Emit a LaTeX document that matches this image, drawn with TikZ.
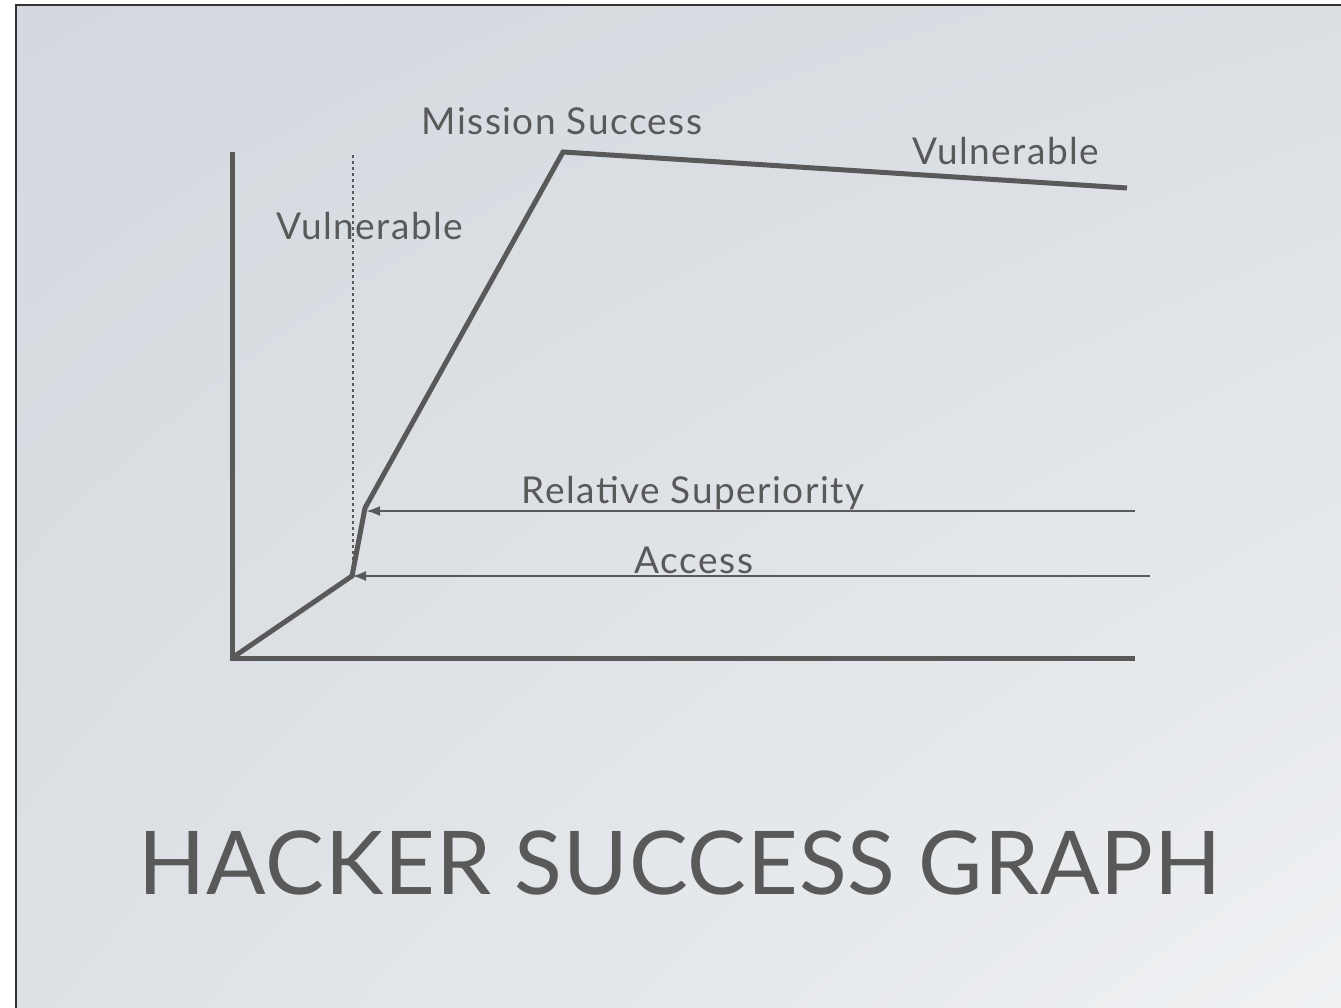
\documentclass[tikz,border=0pt]{standalone}
\usepackage{fontspec}
\setmainfont{Lato}
\newfontfamily\lblfont{Lato}[LetterSpace=4]
\newfontfamily\ttlfont{Lato}[LetterSpace=1]
\usetikzlibrary{arrows.meta,shadings}
\definecolor{ink}{HTML}{595959}
\definecolor{bgA}{HTML}{D3D9DF}
\definecolor{bgB}{HTML}{DBDFE4}
\definecolor{bgC}{HTML}{DDE1E5}
\definecolor{bgD}{HTML}{EFF1F3}
\tikzset{
  axis/.style={draw=ink, line width=5pt},
  curve/.style={draw=ink, line width=5pt, line join=miter},
  pointer/.style={draw=ink, line width=2.4pt, -{Latex[length=14pt,width=10pt]}},
  lbl/.style={text=ink, font=\lblfont\fontsize{37}{44}\selectfont, inner sep=0pt, anchor=base},
  ttl/.style={text=ink, font=\ttlfont\fontsize{88}{100}\selectfont, inner sep=0pt, anchor=base}
}
\begin{document}
\begin{tikzpicture}[x=1pt,y=-1pt]
\useasboundingbox (0,0) rectangle (1341,1008);
\fill[white] (0,0) rectangle (1341,1008);
\shade[upper left=bgA, upper right=bgB, lower left=bgC, lower right=bgD] (16,5) rectangle (1341,1008);
\draw[black!80, line width=2pt] (16,1008) -- (16,5) -- (1341,5);
% points
\coordinate (O) at (232,658);
\coordinate (Ytop) at (232,152);
\coordinate (Xend) at (1135,658);
\coordinate (A) at (352,576);
\coordinate (R) at (365,508);
\coordinate (Rtip) at (366,511);
\coordinate (M) at (563,152);
\coordinate (E) at (1127,188);
\coordinate (Rstart) at (1135,511);
\coordinate (Astart) at (1150,576);
\coordinate (Dtop) at (353,155);
\coordinate (Dbot) at (353,574);
% axes
\draw[axis] (Ytop) -- (232,660.5);
\draw[axis] (229.5,658) -- (Xend);
% dotted
\draw[ink, line width=2.2pt, dash pattern=on 3pt off 3pt] (Dtop) -- (Dbot);
% curve
\draw[curve] (O) -- (A) -- (R) -- (M) -- (E);
% arrows
\draw[pointer] (Rstart) -- (Rtip);
\draw[pointer] (Astart) -- (A);
% labels
\node[lbl] (ms) at (562,135) {Mission Success};
\node[lbl] (v1) at (1006,165) {Vulnerable};
\node[lbl] (v2) at (370,240) {Vulnerable};
\node[lbl] (rs) at (693,503) {Relative Superiority};
\node[lbl] (ac) at (694,573) {Access};
\node[ttl] (title) at (680,894) {HACKER SUCCESS GRAPH};
\end{tikzpicture}
\end{document}
